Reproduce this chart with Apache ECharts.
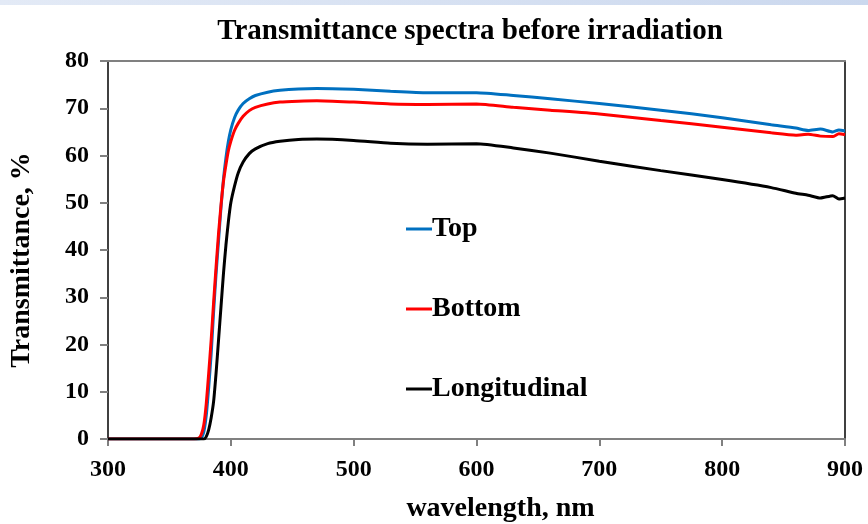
<!DOCTYPE html>
<html>
<head>
<meta charset="utf-8">
<script src="https://cdn.jsdelivr.net/npm/echarts@6/dist/echarts.min.js"></script>
<style>
html,body{margin:0;padding:0;background:#fff;}
#strip{position:absolute;left:0;top:0;width:868px;height:5px;background:linear-gradient(to right,#e3eaf6,#cbd8ee);z-index:2;}
#chart{width:868px;height:524px;}
</style>
</head>
<body>
<div id="strip"></div>
<div id="chart"></div>
<script>
const wavelengths = [300,370,374,376,378,380,382,384,386,388,390,392,394,396,398,400,403,406,410,415,420,430,440,455,470,500,530,560,600,630,660,700,750,800,840,860,870,880,890,895,900];
const topValues = [0,0,0,0.3,1.5,5,11,18,27,35,42,49,55,59.5,63,65.5,68,69.6,71,72,72.7,73.4,73.8,74.1,74.2,74.0,73.6,73.3,73.3,72.7,72.0,71.0,69.6,68.0,66.5,65.8,65.3,65.6,65.0,65.4,65.2];
const bottomValues = [0,0,0.2,1,3,7.5,14,21,29,36.5,43.5,49.5,54.5,58,61,63,65.3,66.8,68.3,69.5,70.2,70.9,71.3,71.5,71.6,71.3,70.9,70.8,70.9,70.2,69.6,68.8,67.4,66.0,64.8,64.3,64.5,64.1,64.0,64.6,64.4];
const longValues = [0,0,0,0,0,0.5,2,4.5,8,14,21,28,35,41,46,50,53.5,56.3,58.6,60.4,61.4,62.5,63.0,63.4,63.5,63.2,62.6,62.4,62.5,61.6,60.5,58.8,56.8,54.9,53.2,52.0,51.6,51.0,51.5,50.8,51.0];
const seriesNames = ['Top','Bottom','Longitudinal'];
const seriesColors = ['#0070c0','#ff0000','#000000'];
const xTicks = {min:300,max:900,interval:100};
const yTicks = {min:0,max:80,interval:10};

const font = '"Liberation Serif","Times New Roman",serif';
const pairs = v => wavelengths.map((w,i)=>[w,v[i]]);
const allValues = [topValues,bottomValues,longValues];

const chart = echarts.init(document.getElementById('chart'));
chart.setOption({
  animation:false,
  backgroundColor:'#fff',
  title:{text:'Transmittance spectra before irradiation',left:465,textAlign:'center',top:12,
    textStyle:{fontFamily:font,fontWeight:'bold',fontSize:29,color:'#000'}},
  grid:{left:108,right:23,top:61,bottom:85,show:false,containLabel:false,outerBoundsMode:'none'},
  legend:{orient:'vertical',left:401,top:210,itemGap:52,itemWidth:26,itemHeight:3,icon:'rect',
    textStyle:{fontFamily:font,fontWeight:'bold',fontSize:28,color:'#000',padding:[0,0,0,-5]},
    data:seriesNames},
  xAxis:[{type:'value',min:xTicks.min,max:xTicks.max,interval:xTicks.interval,
    name:'wavelength, nm',nameLocation:'middle',nameGap:56,
    nameTextStyle:{fontFamily:font,fontWeight:'bold',fontSize:28,color:'#000',padding:[0,0,0,48]},
    axisLine:{lineStyle:{color:'#808080',width:2}},
    axisTick:{show:true,length:7,lineStyle:{color:'#808080',width:2}},
    axisLabel:{fontFamily:font,fontWeight:'bold',fontSize:24,color:'#000',margin:19},
    splitLine:{show:false}},
   {type:'value',position:'top',min:xTicks.min,max:xTicks.max,
    axisLine:{show:true,onZero:false,lineStyle:{color:'#808080',width:2}},
    axisTick:{show:false},axisLabel:{show:false},splitLine:{show:false}}],
  yAxis:[{type:'value',min:yTicks.min,max:yTicks.max,interval:yTicks.interval,
    name:'Transmittance, %',nameLocation:'middle',nameGap:72,
    nameTextStyle:{fontFamily:font,fontWeight:'bold',fontSize:28,color:'#000',padding:[0,20,0,0]},
    axisLine:{show:true,lineStyle:{color:'#000',width:1.5}},
    axisTick:{show:true,length:8,lineStyle:{color:'#808080',width:2}},
    axisLabel:{fontFamily:font,fontWeight:'bold',fontSize:24,color:'#000',margin:19},
    splitLine:{show:false}},
   {type:'value',position:'right',min:yTicks.min,max:yTicks.max,
    axisLine:{show:true,onZero:false,lineStyle:{color:'#000',width:1.5}},
    axisTick:{show:false},axisLabel:{show:false},splitLine:{show:false}}],
  series: seriesNames.map((n,i)=>({
    name:n,type:'line',data:pairs(allValues[i]),showSymbol:false,smooth:0.2,
    xAxisIndex:0,yAxisIndex:0,
    color:seriesColors[i],lineStyle:{width:3,color:seriesColors[i]}
  }))
});
</script>
</body>
</html>
